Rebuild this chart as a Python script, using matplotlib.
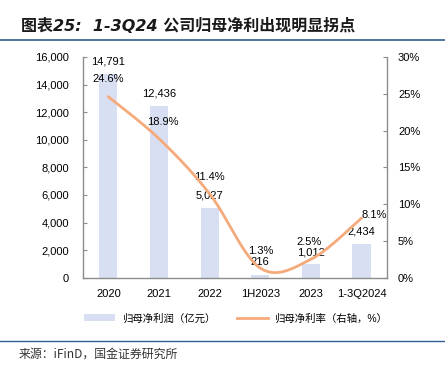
import numpy as np
import matplotlib.pyplot as plt
from matplotlib.lines import Line2D
from matplotlib.patches import Patch

plt.rcParams['font.family'] = ['Liberation Sans', 'Noto Sans CJK SC', 'DejaVu Sans']

categories = ["2020", "2021", "2022", "1H2023", "2023", "1-3Q2024"]
profit = [14791, 12436, 5027, 216, 1012, 2434]          # 归母净利润（亿元）
margin = [24.6, 18.9, 11.4, 1.3, 2.5, 8.1]              # 归母净利率（%）
profit_labels = ["14,791", "12,436", "5,027", "216", "1,012", "2,434"]

BAR_C = "#D9DFF2"
LINE_C = "#F5AA7C"
SPINE_C = "#8C8C8C"
BLUE = "#2F5F8F"


def catmull_rom(xs, ys, n=40):
    xs = np.asarray(xs, float)
    ys = np.asarray(ys, float)
    px = np.concatenate([[xs[0]], xs, [xs[-1]]])
    py = np.concatenate([[ys[0]], ys, [ys[-1]]])
    ox, oy = [], []
    t = np.linspace(0, 1, n)
    h00 = 2 * t**3 - 3 * t**2 + 1
    h10 = t**3 - 2 * t**2 + t
    h01 = -2 * t**3 + 3 * t**2
    h11 = t**3 - t**2
    for i in range(1, len(px) - 2):
        mx0 = (px[i + 1] - px[i - 1]) / 2
        mx1 = (px[i + 2] - px[i]) / 2
        my0 = (py[i + 1] - py[i - 1]) / 2
        my1 = (py[i + 2] - py[i]) / 2
        ox.extend(h00 * px[i] + h10 * mx0 + h01 * px[i + 1] + h11 * mx1)
        oy.extend(h00 * py[i] + h10 * my0 + h01 * py[i + 1] + h11 * my1)
    return np.array(ox), np.array(oy)


fig = plt.figure(figsize=(4.45, 3.7), dpi=100)
ax = fig.add_axes([0.1865, 0.2495, 0.683, 0.5965])
ax2 = ax.twinx()

x = np.arange(len(categories))
ax.bar(x, profit, width=0.36, color=BAR_C, zorder=1)
ax.set_xlim(-0.5, len(categories) - 0.5)
ax.set_ylim(0, 16000)
ax.set_yticks(range(0, 16001, 2000))
ax.set_yticklabels([f"{v:,}" for v in range(0, 16001, 2000)])
ax.set_xticks(x)
ax.set_xticklabels(categories)

sx, sy = catmull_rom(x, margin)
ax2.plot(sx, sy, color=LINE_C, lw=2, solid_capstyle="round", zorder=3)
ax2.set_ylim(0, 30)
ax2.set_yticks(range(0, 31, 5))
ax2.set_yticklabels([f"{v}%" for v in range(0, 31, 5)])

for a in (ax, ax2):
    a.spines["top"].set_visible(False)
    for s in a.spines.values():
        s.set_color(SPINE_C)
        s.set_linewidth(1)
ax.spines["right"].set_visible(False)
ax2.spines["left"].set_visible(False)
ax2.spines["bottom"].set_visible(False)

ax.tick_params(axis="y", direction="in", length=3, color=SPINE_C, labelsize=8, pad=10)
ax.tick_params(axis="x", length=0, labelsize=8, pad=8)
ax2.tick_params(axis="y", direction="in", length=3, color=SPINE_C, labelsize=8, pad=8)

# bar value labels
bar_dy = [8.9, 8.9, 8.9, 8.9, 8.2, 8.9]
for i, v in enumerate(profit):
    ax2.annotate(profit_labels[i], (i, v * 30 / 16000), xytext=(0, bar_dy[i]), textcoords="offset points",
                 ha="center", va="center", fontsize=8, zorder=2)

# margin labels (placed by hand like the source chart)
pct_off = [(0, 12.7), (3, 12), (0, 12), (0, 12), (-1, 12.3), (9.4, 1.9)]
for i, v in enumerate(margin):
    dx, dy = pct_off[i]
    ax2.annotate(f"{v}%", (i, v), xytext=(dx, dy), textcoords="offset points",
                 ha="center", va="center", fontsize=8, zorder=2)

# legend
handles = [Patch(facecolor=BAR_C, edgecolor="none"),
           Line2D([0], [0], color=LINE_C, lw=2)]
fig.legend(handles, ["归母净利润（亿元）", "归母净利率（右轴，%）"],
           loc="center", bbox_to_anchor=(0.53, 0.14), ncol=2, frameon=False,
           fontsize=7.5, handlelength=3.0, columnspacing=2.1, handletextpad=0.6)

# title and rules
fig.text(0.047, 0.93, "图表25:  1-3Q24 公司归母净利出现明显拐点", fontsize=11.5,
         fontweight="bold", style="italic", va="center", ha="left",
         family=["DejaVu Sans", "Noto Sans CJK SC"], color="#1A1A1A")
fig.add_artist(Line2D([0, 1], [0.893, 0.893], color=BLUE, lw=1.2))
fig.add_artist(Line2D([0, 1], [0.079, 0.079], color=BLUE, lw=1))
fig.text(0.042, 0.043, "来源：iFinD，国金证券研究所", fontsize=8.6, va="center", ha="left",
         family=["Noto Sans CJK SC", "DejaVu Sans"], color="#333333")

fig.savefig("out.png", dpi=100)
